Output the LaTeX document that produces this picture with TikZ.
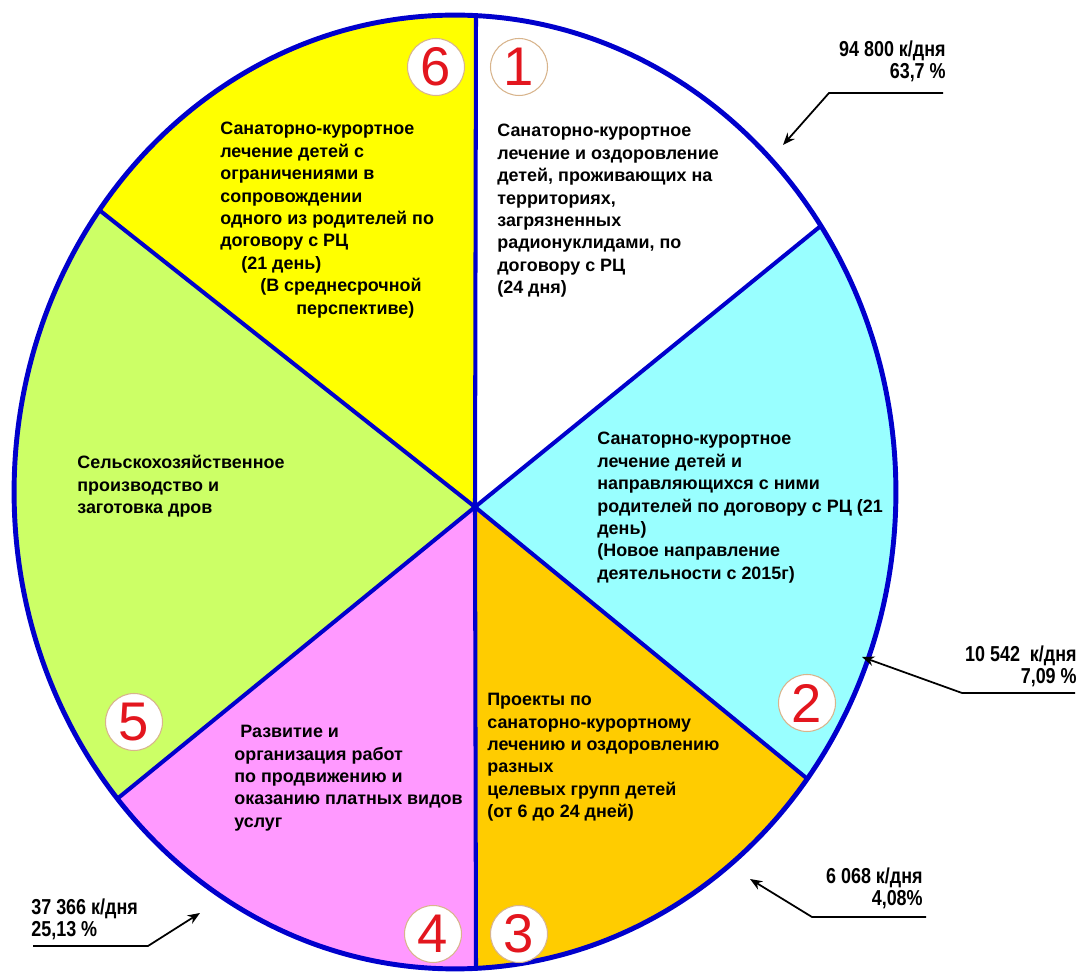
\documentclass[tikz,border=0pt]{standalone}
\usepackage{fontspec}
\setmainfont{Liberation Sans}
\newfontfamily\narrowfont[FakeStretch=0.83]{Liberation Sans}
\usepackage{tikz}
\usetikzlibrary{arrows.meta, calc}
\definecolor{rimblue}{HTML}{0000CC}
\definecolor{sunyellow}{HTML}{FFFF00}
\definecolor{skycyan}{HTML}{99FFFF}
\definecolor{amber}{HTML}{FFCC00}
\definecolor{orchid}{HTML}{FF99FF}
\definecolor{meadow}{HTML}{CCFF66}
\definecolor{discred}{HTML}{E3161E}
\definecolor{disctan}{HTML}{D8B48C}
\tikzset{
x=0.02cm, y=-0.02cm, % one unit is one pixel of the slide, y runs down
>={Stealth[length=7pt,width=5.5pt]}, % solid arrow heads
divider/.style={rimblue, line width=2.3pt}, % spokes of the pie
rimline/.style={rimblue, line width=2.8pt}, % outer ellipse
sectortext/.style={anchor=north west, align=left, inner sep=0pt, font=\bfseries\fontsize{10.2}{12.75}\selectfont},
numdisc/.style={circle, draw=disctan, line width=0.6pt, fill=white, text=discred, minimum size=1.14cm, inner sep=0pt, font=\fontsize{31}{31}\selectfont},
share/.style={inner sep=0pt, font=\narrowfont\bfseries\fontsize{12.3}{12.7}\selectfont},
pointer/.style={->, line width=1pt},
}

\begin{document}
\begin{tikzpicture}
    \useasboundingbox (0,0) rectangle (1083,972);

    % hub of the pie, centre of the rim and the ends of the spokes
    \coordinate (hub) at (475,507);
    \coordinate (rim) at (455,492);
    \coordinate (top) at (476,15);
    \coordinate (bot) at (476,969);
    \coordinate (b12) at (817,229);
    \coordinate (b23) at (810,781);
    \coordinate (b45) at (117,799);
    \coordinate (b56) at (103,213);

    \begin{scope}
        \clip (rim) ellipse [x radius=8.82cm, y radius=9.54cm];
        \fill[skycyan] (hub) -- ($(hub)!3!(b12)$) -- ($(hub)!3!(b23)$) -- cycle;
        \fill[amber] (hub) -- ($(hub)!3!(b23)$) -- ($(hub)!3!(bot)$) -- cycle;
        \fill[orchid] (hub) -- ($(hub)!3!(bot)$) -- ($(hub)!3!(b45)$) -- cycle;
        \fill[meadow] (hub) -- ($(hub)!3!(b45)$) -- ($(hub)!3!(b56)$) -- cycle;
        \fill[sunyellow] (hub) -- ($(hub)!3!(b56)$) -- ($(hub)!3!(top)$) -- cycle;
        \foreach \b in {top,b12,b23,bot,b45,b56}
            \draw[divider] (hub) -- ($(hub)!1.2!(\b)$);
    \end{scope}
    \draw[rimline] (rim) ellipse [x radius=8.82cm, y radius=9.54cm];

    % numbered discs
    \node[numdisc] (n1) at (519,67) {1};
    \node[numdisc] (n2) at (807,703) {2};
    \node[numdisc] (n3) at (519,934) {3};
    \node[numdisc] (n4) at (433,934) {4};
    \node[numdisc] (n5) at (134,722) {5};
    \node[numdisc] (n6) at (436,67) {6};

    % texts of the sectors
    \node[sectortext] (t1) at (497,124) {Санаторно-курортное\\лечение и оздоровление\\детей, проживающих на\\территориях,\\загрязненных\\радионуклидами, по\\договору с РЦ\\(24 дня)};
    \node[sectortext] (t2) at (597,432) {Санаторно-курортное\\лечение детей и\\направляющихся с ними\\родителей по договору с РЦ (21\\день)\\(Новое направление\\деятельности с 2015г)};
    \node[sectortext] (t3) at (487,693) {Проекты по\\санаторно-курортному\\лечению и оздоровлению\\разных\\целевых групп детей\\(от 6 до 24 дней)};
    \node[sectortext] (t4) at (234,725) {\hspace*{0.12cm}Развитие и\\организация работ\\по продвижению и\\оказанию платных видов\\услуг};
    \node[sectortext] (t5) at (77,455) {Сельскохозяйственное\\производство и\\заготовка дров};
    \node[sectortext] (t6) at (220,122) {Санаторно-курортное\\лечение детей с\\ограничениями в\\сопровождении\\одного из родителей по\\договору с РЦ\\\hspace*{0.42cm}(21 день)\\\hspace*{0.8cm}(В среднесрочной\\\hspace*{1.52cm}перспективе)};

    % shares with their pointers
    \node[share, anchor=north east, align=right] (v1) at (946,40) {94 800 к/дня\\63,7 \%};
    \coordinate (v1a) at (943,93);
    \coordinate (v1b) at (829,93);
    \coordinate (v1c) at (783,145);
    \draw[pointer] (v1a) -- (v1b) -- (v1c);

    \node[share, anchor=north east, align=right] (v2) at (1077,645) {10 542~~к/дня\\7,09 \%};
    \coordinate (v2a) at (1075,693);
    \coordinate (v2b) at (962,693);
    \coordinate (v2c) at (862,657);
    \draw[pointer] (v2a) -- (v2b) -- (v2c);

    \node[share, anchor=north east, align=right] (v3) at (923,867) {6 068 к/дня\\4,08\%};
    \coordinate (v3a) at (926,917);
    \coordinate (v3b) at (812,917);
    \coordinate (v3c) at (750,879);
    \draw[pointer] (v3a) -- (v3b) -- (v3c);

    \node[share, anchor=north west, align=left] (v4) at (31,898) {37 366 к/дня\\25,13 \%};
    \coordinate (v4a) at (33,946);
    \coordinate (v4b) at (148,946);
    \coordinate (v4c) at (200,913);
    \draw[pointer] (v4a) -- (v4b) -- (v4c);
\end{tikzpicture}
\end{document}
